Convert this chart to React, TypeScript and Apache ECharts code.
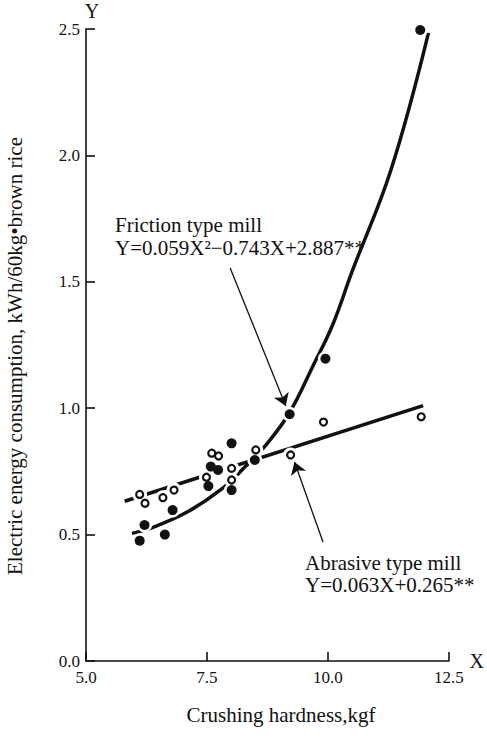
import React, { useEffect, useRef } from "react";
import * as echarts from "echarts";

// Friction type mill (filled circles): [crushing hardness kgf, kWh]
const frictionPoints: number[][] = [
  [8.01, 0.861], [8.49, 0.795], [7.58, 0.769], [7.73, 0.756], [7.53, 0.692],
  [8.01, 0.676], [6.79, 0.597], [6.21, 0.538], [6.63, 0.5], [6.11, 0.476],
  [9.21, 0.976], [9.95, 1.196], [11.91, 2.496],
];
// Abrasive type mill (open circles)
const abrasivePoints: number[][] = [
  [8.51, 0.835], [7.6, 0.822], [7.74, 0.811], [8.01, 0.762], [7.49, 0.727],
  [8.01, 0.716], [6.82, 0.676], [6.11, 0.659], [6.22, 0.624], [6.59, 0.646],
  [9.23, 0.815], [9.91, 0.945], [11.93, 0.966],
];
// Fitted curves as drawn
const frictionCurve: number[][] = [
  [5.95, 0.505], [6.4, 0.53], [7.1, 0.59], [7.8, 0.68], [8.3, 0.77], [8.7, 0.85],
  [9.2, 0.98], [9.7, 1.17], [10.1, 1.33], [10.5, 1.54], [11.3, 1.94], [12.08, 2.485],
];
const abrasiveLine: number[][] = [[5.8, 0.632], [11.97, 1.01]];
// Arrows: [from, to]
const frictionArrow: number[][] = [[7.98, 1.555], [9.13, 1.009]];
const abrasiveArrow: number[][] = [[9.9, 0.471], [9.31, 0.787]];

const xAxisTitle = "Crushing hardness,kgf";
const yAxisTitle = "Electric energy consumption, kWh/60kg\u2022brown rice";
const frictionLabel = ["Friction type mill", "Y=0.059X\u00b2\u22120.743X+2.887**"];
const abrasiveLabel = ["Abrasive type mill", "Y=0.063X+0.265**"];

const FONT = "'Liberation Serif', 'Times New Roman', serif";
const INK = "#111";

export default function App() {
  const ref = useRef<HTMLDivElement>(null);
  useEffect(() => {
    if (!ref.current) return;
    const chart = echarts.init(ref.current, undefined, { renderer: "svg" });
    const textStyle = (t: string, x: number, y: number, extra: any = {}) => ({
      type: "text",
      x,
      y,
      silent: true,
      ...extra,
      style: {
        text: t,
        fill: INK,
        fontFamily: FONT,
        fontSize: 21,
        verticalAlign: "middle",
        ...(extra.style || {}),
      },
    });
    chart.setOption({
      animation: false,
      backgroundColor: "#fff",
      grid: { left: 86, right: 24, top: 29, bottom: 78, containLabel: false },
      xAxis: {
        type: "value",
        min: 5,
        max: 12.5,
        interval: 2.5,
        name: "X",
        nameLocation: "end",
        nameGap: 8,
        nameTextStyle: { fontFamily: FONT, fontSize: 20, color: INK, padding: [0, 0, 8, 0] },
        axisLine: { lineStyle: { color: INK, width: 1.6 } },
        axisTick: { inside: true, length: 9, lineStyle: { color: INK, width: 1.6 } },
        axisLabel: {
          fontFamily: FONT,
          fontSize: 17,
          color: INK,
          margin: 8,
          formatter: (v: number) => v.toFixed(1),
        },
        splitLine: { show: false },
      },
      yAxis: {
        type: "value",
        min: 0,
        max: 2.5,
        interval: 0.5,
        name: "Y",
        nameLocation: "end",
        nameGap: 4,
        nameTextStyle: { fontFamily: FONT, fontSize: 20, color: INK, padding: [0, 0, 0, 12] },
        axisLine: { lineStyle: { color: INK, width: 1.6 } },
        axisTick: { inside: true, length: 9, lineStyle: { color: INK, width: 1.6 } },
        axisLabel: {
          fontFamily: FONT,
          fontSize: 17,
          color: INK,
          margin: 6,
          formatter: (v: number) => v.toFixed(1),
        },
        splitLine: { show: false },
      },
      series: [
        {
          type: "line",
          data: frictionCurve,
          smooth: 0.4,
          symbol: "none",
          z: 2,
          lineStyle: { color: INK, width: 3.5 },
          markLine: {
            silent: true,
            symbol: ["none", "arrow"],
            symbolSize: 12,
            label: { show: false },
            itemStyle: { color: INK },
            lineStyle: { color: INK, width: 1.3, type: "solid" },
            emphasis: { disabled: true },
            data: [
              [{ coord: frictionArrow[0] }, { coord: frictionArrow[1] }],
              [{ coord: abrasiveArrow[0] }, { coord: abrasiveArrow[1] }],
            ],
          },
        },
        {
          type: "line",
          data: abrasiveLine,
          symbol: "none",
          z: 2,
          lineStyle: { color: INK, width: 3.5 },
        },
        {
          type: "scatter",
          data: [...frictionPoints, ...abrasivePoints],
          symbol: "circle",
          symbolSize: 15,
          z: 3,
          silent: true,
          itemStyle: { color: "#fff", opacity: 1 },
        },
        {
          type: "scatter",
          data: frictionPoints,
          symbol: "circle",
          symbolSize: 10,
          z: 4,
          itemStyle: { color: INK, opacity: 1 },
        },
        {
          type: "scatter",
          data: abrasivePoints,
          symbol: "circle",
          symbolSize: 7,
          z: 4,
          itemStyle: { color: "#fff", borderColor: INK, borderWidth: 2.2, opacity: 1 },
        },
      ],
      graphic: [
        textStyle(frictionLabel[0], 115, 225),
        textStyle(frictionLabel[1], 115, 248),
        textStyle(abrasiveLabel[0], 305, 563),
        textStyle(abrasiveLabel[1], 305, 585),
        textStyle(xAxisTitle, 281, 715, { style: { align: "center" } }),
        textStyle(yAxisTitle, 15, 356, { rotation: Math.PI / 2, style: { align: "center" } }),
      ],
    });
    return () => chart.dispose();
  }, []);
  return (
    <div
      ref={ref}
      style={{ position: "fixed", left: 0, top: 0, width: 487, height: 739, background: "#fff" }}
    />
  );
}
